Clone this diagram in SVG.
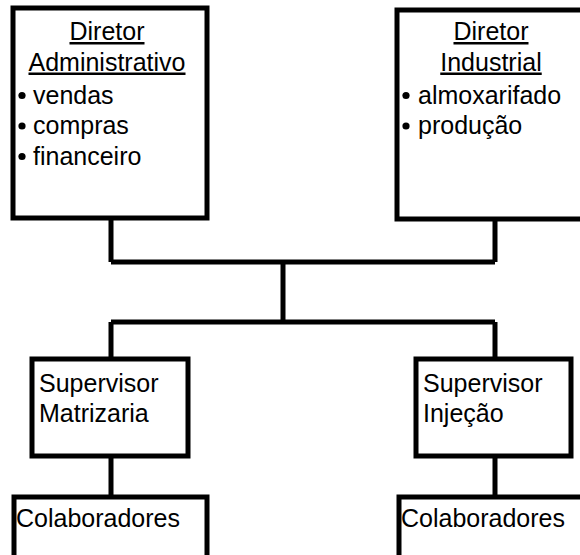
<svg xmlns="http://www.w3.org/2000/svg" width="580" height="555" viewBox="0 0 580 555">
  <style>
    .box { fill: #ffffff; stroke: #000000; stroke-width: 5; }
    .wire { fill: none; stroke: #000000; stroke-width: 5; stroke-linejoin: miter; }
    text { font-family: "Liberation Sans", Arial, sans-serif; font-size: 25px; fill: #000000; }
    .title { text-anchor: middle; text-decoration: underline; }
    .dot { fill: #000000; }
  </style>
  <rect x="0" y="0" width="580" height="555" fill="#ffffff"/>

  <!-- connectors between the levels of the chart -->
  <g id="connectors">
    <path class="wire" d="M111,218 V262 M495,219 V262 M111,262 H495"/>
    <path class="wire" d="M283,262 V322"/>
    <path class="wire" d="M111,322 H495 M111,322 V359 M495,322 V359"/>
    <path class="wire" d="M111,456 V497 M495,456 V497"/>
  </g>

  <!-- top level: directors -->
  <g id="diretor-administrativo">
    <rect class="box" x="13" y="8" width="194" height="210"/>
    <text class="title" x="107" y="40">Diretor</text>
    <text class="title" x="107" y="70.5">Administrativo</text>
    <circle class="dot" cx="22" cy="95.5" r="3.6"/>
    <text x="33" y="103.5">vendas</text>
    <circle class="dot" cx="22" cy="126" r="3.6"/>
    <text x="33" y="134">compras</text>
    <circle class="dot" cx="22" cy="156.5" r="3.6"/>
    <text x="33" y="164.5">financeiro</text>
  </g>

  <g id="diretor-industrial">
    <rect class="box" x="397" y="10" width="195" height="209"/>
    <text class="title" x="491" y="40">Diretor</text>
    <text class="title" x="491" y="70.5">Industrial</text>
    <circle class="dot" cx="406" cy="95.5" r="3.6"/>
    <text x="418" y="103.5">almoxarifado</text>
    <circle class="dot" cx="406" cy="126" r="3.6"/>
    <text x="418" y="134">produção</text>
  </g>

  <!-- middle level: supervisors -->
  <g id="supervisor-matrizaria">
    <rect class="box" x="32" y="359" width="156" height="97"/>
    <text x="39" y="392">Supervisor</text>
    <text x="39" y="422">Matrizaria</text>
  </g>

  <g id="supervisor-injecao">
    <rect class="box" x="416" y="359" width="155" height="97"/>
    <text x="423" y="392">Supervisor</text>
    <text x="423" y="422">Injeção</text>
  </g>

  <!-- bottom level: staff -->
  <g id="colaboradores-matrizaria">
    <rect class="box" x="14" y="497" width="193" height="75"/>
    <text x="16" y="527">Colaboradores</text>
  </g>

  <g id="colaboradores-injecao">
    <rect class="box" x="399" y="497" width="195" height="75"/>
    <text x="401" y="527">Colaboradores</text>
  </g>
</svg>
